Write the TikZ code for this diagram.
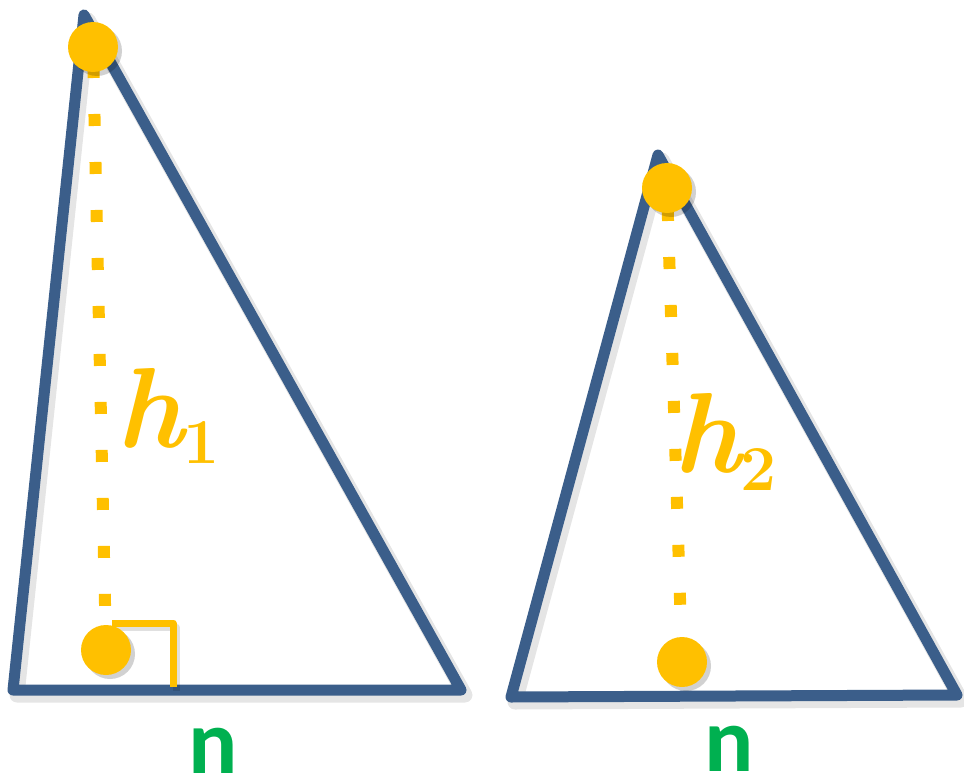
\documentclass[tikz,border=0pt]{standalone}
\usepackage{fontspec}
\newfontfamily\nfont{Carlito}
\newcommand\mysubfont{\fontsize{64}{64}\selectfont\upshape}
\usetikzlibrary{calc}
\definecolor{triblue}{HTML}{3B5E8A}
\definecolor{ptyellow}{HTML}{FFC000}
\definecolor{ngreen}{HTML}{00B050}
\begin{document}
\begin{tikzpicture}[x=1pt,y=-1pt,
  tri/.style={draw=triblue,line width=11pt,line join=round,line cap=round},
  trishadow/.style={draw=black,opacity=0.10,line width=15pt,line join=round,line cap=round},
  dotnode/.style={circle,fill=ptyellow,minimum size=50pt,inner sep=0pt},
  dotshadow/.style={fill=black,opacity=0.18},
  heightline/.style={draw=ptyellow,line width=12pt,dash pattern=on 12pt off 36pt},
  rightmark/.style={draw=ptyellow,line width=7pt,line join=round},
  hlabel/.style={text=ptyellow,inner sep=0pt,font=\fontsize{114}{114}\selectfont\bfseries\itshape},
  nlabel/.style={text=ngreen,inner sep=0pt,font=\nfont\bfseries\fontsize{92}{92}\selectfont}]
\useasboundingbox (0,0) rectangle (964,776);
% left triangle
\coordinate (LA) at (84,15);
\coordinate (LB) at (13,690);
\coordinate (LC) at (461,690);
% right triangle
\coordinate (RA) at (658,155);
\coordinate (RB) at (511,697);
\coordinate (RC) at (957,695);
% shadows of triangles
\draw[trishadow,transform canvas={shift={(4,5)}}] (LA) -- (LB) -- (LC) -- cycle;
\draw[trishadow,transform canvas={shift={(4,5)}}] (RA) -- (RB) -- (RC) -- cycle;
\draw[tri] (LA) -- (LB) -- (LC) -- cycle;
\draw[tri] (RA) -- (RB) -- (RC) -- cycle;
% dot positions
\coordinate (Lt) at (93,47);
\coordinate (Lb) at (106,650);
\coordinate (Rt) at (667,188);
\coordinate (Rb) at (682,662);
% dotted heights
\draw[heightline,shorten <=19pt] (Lt) -- (Lb);
\draw[heightline,shorten <=21pt] (Rt) -- (Rb);
% right angle mark
\coordinate (ra1) at (112,623);
\coordinate (ra2) at (173,623);
\coordinate (ra3) at (173,687);
\draw[rightmark,draw=black,opacity=0.12,transform canvas={shift={(3,4)}}] (ra1) -- (ra2) -- (ra3);
\draw[rightmark] (ra1) -- (ra2) -- (ra3);
% dot shadows
\fill[dotshadow] ($(Lt)+(4,4)$) circle (25);
\fill[dotshadow] ($(Lb)+(4,4)$) circle (25);
\fill[dotshadow] ($(Rt)+(4,4)$) circle (25);
\fill[dotshadow] ($(Rb)+(4,4)$) circle (25);
% dots
\node[dotnode] (topL) at (Lt) {};
\node[dotnode] (botL) at (Lb) {};
\node[dotnode] (topR) at (Rt) {};
\node[dotnode] (botR) at (Rb) {};
% labels
\node[hlabel,anchor=base west] (h1) at (116,447) {h\raisebox{-16pt}{\mysubfont 1}};
\node[hlabel,anchor=base west] (h2) at (673,472) {h\raisebox{-18pt}{\mysubfont 2}};
\node[nlabel,anchor=base] (n1) at (213,773) {n};
\node[nlabel,anchor=base] (n2) at (729,771) {n};
\end{tikzpicture}
\end{document}
